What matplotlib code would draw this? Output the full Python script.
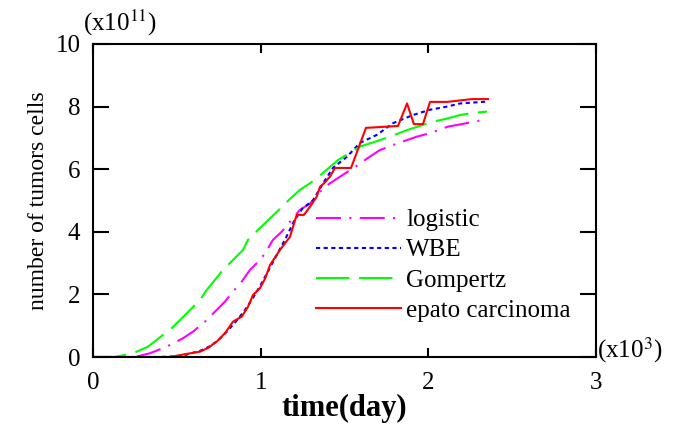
import matplotlib
matplotlib.use('Agg')
from matplotlib import pyplot as plt

# time in days, cell counts in units of 1e11
red_t = [0, 460, 559, 638, 686, 738, 787, 835, 887, 924, 954, 996, 1026, 1056,
         1115, 1175, 1193, 1215, 1258, 1294, 1334, 1354, 1378, 1413, 1443, 1539,
         1628, 1819, 1873, 1914, 1968, 2010, 2111, 2260, 2356]
red_v = [0, 0, 0.1, 0.17, 0.29, 0.49, 0.76, 1.13, 1.29, 1.6, 1.98, 2.2, 2.5, 2.94,
         3.42, 3.84, 4.16, 4.54, 4.54, 4.8, 5.12, 5.44, 5.55, 5.76, 6.04, 6.04,
         7.32, 7.38, 8.1, 7.44, 7.44, 8.15, 8.15, 8.24, 8.24]

wbe_t = [0, 400, 500, 560, 640, 700, 750, 800, 850, 900, 950, 1000, 1050, 1100,
         1150, 1200, 1250, 1312, 1372, 1431, 1515, 1592, 1694, 1789, 1908, 2010,
         2111, 2189, 2350]
wbe_v = [0, 0, 0.02, 0.08, 0.2, 0.35, 0.55, 0.82, 1.12, 1.45, 1.85, 2.3, 2.8, 3.3,
         3.8, 4.35, 4.75, 5.0, 5.55, 6.04, 6.4, 6.84, 7.1, 7.47, 7.73, 7.9,
         8.0, 8.1, 8.16]

gom_t = [0, 131, 239, 328, 469, 519, 638, 678, 775, 835, 895, 924, 984, 1097,
         1157, 1234, 1294, 1354, 1461, 1592, 1711, 1771, 1873, 2028, 2099, 2189,
         2266, 2350]
gom_v = [0, 0, 0.12, 0.33, 0.92, 1.18, 1.82, 2.14, 2.78, 3.1, 3.42, 3.74, 4.06, 4.64,
         4.96, 5.34, 5.55, 5.8, 6.29, 6.72, 6.93, 7.04, 7.25, 7.52, 7.6, 7.73,
         7.8, 7.84]

log_t = [0, 250, 340, 440, 537, 596, 668, 728, 787, 835, 887, 936, 996, 1026,
         1073, 1125, 1175, 1234, 1294, 1354, 1413, 1473, 1563, 1640, 1711, 1819,
         1932, 2010, 2117, 2248, 2350]
log_v = [0, 0, 0.12, 0.33, 0.6, 0.81, 1.13, 1.45, 1.77, 2.09, 2.41, 2.78, 3.1, 3.31,
         3.74, 4.0, 4.32, 4.7, 4.9, 5.28, 5.55, 5.76, 6.07, 6.36, 6.61, 6.83,
         7.04, 7.15, 7.36, 7.49, 7.6]

x_ticks = [0, 1000, 2000, 3000]
x_labels = ['0', '1', '2', '3']
y_ticks = [0, 2, 4, 6, 8, 10]
y_labels = ['0', '2', '4', '6', '8', '10']

plt.rcParams['font.family'] = ['Liberation Serif', 'DejaVu Serif']
plt.rcParams['mathtext.fontset'] = 'stix'
plt.rcParams['lines.scale_dashes'] = False

fig = plt.figure(figsize=(6.82, 4.25), dpi=100)
ax = fig.add_axes([93 / 682, 68 / 425, 503 / 682, 313 / 425])

lw = 1.5
ax.plot(log_t, log_v, color='#ff00ff', lw=lw, dashes=(18, 6, 1.5, 6), label='logistic')
ax.plot(wbe_t, wbe_v, color='#0000ff', lw=lw, dashes=(3, 2.5), label='WBE')
ax.plot(gom_t, gom_v, color='#00ff00', lw=lw, dashes=(24, 7), label='Gompertz')
ax.plot(red_t, red_v, color='#ff0000', lw=lw, label='epato carcinoma')

ax.set_xlim(0, 3000)
ax.set_ylim(0, 10)
ax.set_xticks(x_ticks)
ax.set_xticklabels(x_labels)
ax.set_yticks(y_ticks)
ax.set_yticklabels(y_labels)

for s in ax.spines.values():
    s.set_linewidth(1.5)
ax.tick_params(axis='x', direction='in', length=6.5, width=1.5, top=True,
               labelsize=18, pad=11)
ax.tick_params(axis='y', direction='in', length=11.5, width=1.5, right=True,
               labelsize=18, pad=9)

ax.set_ylabel('number of tumors cells', fontsize=17, labelpad=5)
ax.set_xlabel('time(day)', fontsize=22, fontweight='bold', labelpad=0)

fig.text(83 / 682, 1 - 31 / 425, r'(x10$^{11}$)', fontsize=18)
fig.text(597 / 682, 1 - 357 / 425, r'(x10$^{3}$)', fontsize=18)

ax.legend(loc='upper left', bbox_to_anchor=(316 / 682, 1 - 209 / 425),
          bbox_transform=fig.transFigure, frameon=False, fontsize=18,
          handlelength=3.4, handletextpad=0.2, labelspacing=0.3, borderpad=0,
          borderaxespad=0)

plt.savefig('out.png', dpi=100)
